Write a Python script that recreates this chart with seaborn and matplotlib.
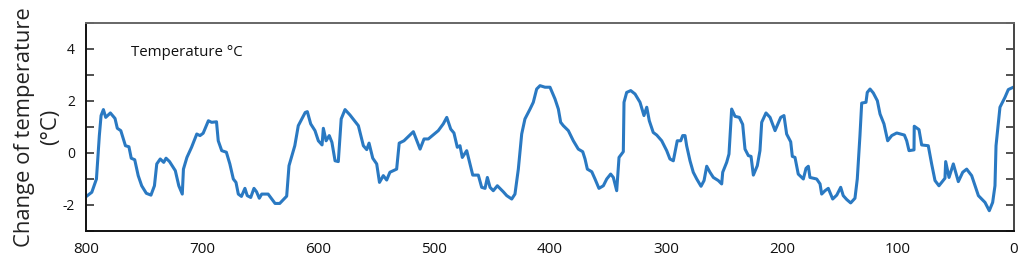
import numpy as np
import pandas as pd
import matplotlib
matplotlib.use("Agg")
import matplotlib.pyplot as plt
import seaborn as sns
from matplotlib.ticker import MultipleLocator

# Age (thousand years before present) and temperature change (°C)
age = [800, 795, 791, 788.5, 787, 785, 783, 779, 775, 773, 770, 766, 763, 761, 758,
       755, 752, 748, 744, 741, 739, 736, 733, 731, 728, 723, 720, 717, 716, 713,
       709, 704.5, 701.7, 699, 694.5, 691.7, 687.5, 686, 683, 679, 676, 673, 670.7,
       668.7, 666, 663, 661, 658, 655.2, 653, 650.6, 648.5, 643, 637, 633, 627, 625,
       620, 617, 611, 609.2, 606.3, 602.6, 599.7, 596.5, 595.4, 593, 590.3, 588,
       585.3, 582.5, 580, 576.7, 572.4, 565.2, 560.9, 558, 556, 552.8, 549.4, 547,
       543.7, 540.8, 538, 532.2, 530, 525.9, 517.8, 512, 508.6, 504.9, 496.3, 492,
       489, 485.6, 482.8, 479.9, 477.6, 475.6, 471.8, 466.6, 461.8, 458.9, 456, 454,
       451.7, 448.9, 445.4, 440.3, 437.3, 433, 430.2, 427.3, 424.4, 421.6, 417.2,
       414.4, 411.5, 408.6, 404.3, 400, 395.7, 392.8, 390.8, 388.5, 384.2, 379.9,
       375.6, 371.8, 369.8, 367.8, 364, 361.2, 357.8, 354, 351.1, 347.7, 345.4, 342.5,
       340.5, 336.8, 336.2, 333.9, 330.4, 326.7, 322.4, 319, 316.6, 314.4, 311, 308,
       303.7, 299.4, 296.6, 293.7, 290.3, 287.3, 285.6, 283.6, 282.2, 279.3, 276.5,
       273.5, 269.8, 267.2, 264.9, 262.1, 259.2, 254.9, 252, 251.1, 247.7, 245.7,
       243.4, 240.5, 236.8, 233.9, 231.9, 229, 226.7, 224.7, 221.3, 219, 217.5,
       213.8, 210.3, 206, 201.1, 198.3, 196, 192.5, 191.1, 188.8, 186, 181.6, 179.3,
       177.3, 175.9, 170.1, 167.2, 165.8, 162.9, 160.1, 156.3, 152.8, 149.4, 147.2,
       144.2, 140.8, 137.1, 135.1, 132.8, 131.3, 127.6, 126.5, 124.1, 121.3, 117.8,
       115.5, 112.1, 108.9, 105.4, 101.1, 94.5, 92.5, 90.5, 86.2, 86, 81.9, 79.6,
       73.9, 71, 68.1, 64.7, 59.5, 58.9, 56, 52.3, 48, 44.2, 40.8, 36.5, 30.7, 25,
       21.3, 18.4, 16.4, 15.5, 12.1, 7.8, 4.9, 0.6]
temp = [-1.68, -1.51, -1.0, 0.67, 1.44, 1.67, 1.37, 1.54, 1.33, 0.95, 0.86, 0.28, 0.24,
        -0.2, -0.26, -0.87, -1.26, -1.55, -1.62, -1.26, -0.42, -0.23, -0.36, -0.2,
        -0.33, -0.68, -1.26, -1.58, -0.62, -0.17, 0.22, 0.73, 0.67, 0.76, 1.24, 1.18,
        1.2, 0.47, 0.09, 0.03, -0.42, -1.0, -1.13, -1.58, -1.67, -1.36, -1.64, -1.71,
        -1.36, -1.49, -1.74, -1.58, -1.58, -1.94, -1.94, -1.66, -0.49, 0.28, 1.05,
        1.56, 1.59, 1.12, 0.86, 0.47, 0.31, 0.95, 0.47, 0.67, 0.41, -0.3, -0.33, 1.31,
        1.67, 1.46, 1.05, 0.28, 0.13, 0.38, -0.2, -0.42, -1.13, -0.87, -1.04, -0.74,
        -0.62, 0.38, 0.47, 0.82, 0.15, 0.54, 0.54, 0.86, 1.12, 1.37, 0.92, 0.77, 0.22,
        0.28, -0.17, 0.09, -0.85, -0.85, -1.32, -1.36, -0.94, -1.32, -1.45, -1.26,
        -1.49, -1.64, -1.77, -1.58, -0.62, 0.73, 1.31, 1.69, 1.95, 2.46, 2.59, 2.53,
        2.53, 2.08, 1.69, 1.18, 1.05, 0.86, 0.47, 0.15, 0.05, -0.23, -0.62, -0.72,
        -1.0, -1.36, -1.26, -1.0, -0.81, -0.94, -1.45, -0.17, 0.05, 1.95, 2.33, 2.4,
        2.27, 1.95, 1.44, 1.76, 1.24, 0.79, 0.69, 0.47, 0.09, -0.23, -0.3, 0.47, 0.47,
        0.67, 0.67, 0.28, -0.3, -0.74, -1.0, -1.28, -1.06, -0.51, -0.74, -0.94, -1.06,
        -1.19, -0.74, -0.36, -0.04, 1.69, 1.41, 1.37, 1.1, 0.15, -0.1, -0.13, -0.85,
        -0.49, 0.09, 1.18, 1.54, 1.37, 0.86, 1.37, 1.44, 0.73, 0.43, -0.13, -0.17,
        -0.81, -1.0, -0.59, -0.51, -0.94, -1.0, -1.19, -1.58, -1.45, -1.36, -1.77,
        -1.62, -1.32, -1.64, -1.79, -1.92, -1.74, -1.0, 0.67, 1.92, 1.95, 2.33, 2.46,
        2.31, 2.01, 1.5, 1.12, 0.47, 0.67, 0.77, 0.69, 0.47, 0.09, 0.12, 1.03, 0.9,
        0.31, 0.28, -0.42, -1.06, -1.26, -0.97, -0.33, -0.94, -0.42, -1.1, -0.74,
        -0.62, -0.87, -1.64, -1.9, -2.22, -1.9, -1.26, 0.28, 1.76, 2.14, 2.44, 2.53]

x_ticks = [800, 700, 600, 500, 400, 300, 200, 100, 0]
y_ticks = [-2, 0, 2, 4]

df = pd.DataFrame({"age": age, "temp": temp})

sns.set_theme(style="white")
plt.rcParams["font.family"] = ["Open Sans", "DejaVu Sans"]

fig = plt.figure(figsize=(10.24, 2.62), dpi=100)
ax = fig.add_axes([86 / 1024, 1 - 231 / 262, (1014 - 86) / 1024, (231 - 23) / 262])

sns.lineplot(data=df, x="age", y="temp", ax=ax, color="#2a79c2", linewidth=2.2,
             sort=False, estimator=None)

ax.set_xlim(800, 0)
ax.set_ylim(-3, 5)
ax.set_xticks(x_ticks)
ax.set_xticklabels([str(t) for t in x_ticks])
ax.set_yticks(y_ticks)
ax.set_yticklabels([str(t) for t in y_ticks])
ax.yaxis.set_minor_locator(MultipleLocator(1))

ax.tick_params(axis="x", which="major", direction="in", length=5, width=1.3,
               color="#222222", labelsize=11, pad=8, labelcolor="#111111")
ax.tick_params(axis="y", which="both", direction="in", length=6, width=1.2,
               color="#333333", labelsize=10, pad=8, labelcolor="#111111",
               right=True, left=True)
ax.tick_params(axis="y", which="minor", labelleft=False)

for side, col, lw in [("left", "#111111", 1.4), ("bottom", "#111111", 1.4),
                      ("top", "#666666", 1.4), ("right", "#444444", 1.4)]:
    ax.spines[side].set_visible(True)
    ax.spines[side].set_color(col)
    ax.spines[side].set_linewidth(lw)

ax.set_xlabel("")
ax.set_ylabel("Change of temperature\n(°C)", fontsize=15.8, color="#222222",
              linespacing=1.3, labelpad=1)
ax.text(0.049, 0.856, "Temperature °C", fontsize=10.8, color="#111111",
        ha="left", va="center", transform=ax.transAxes)

fig.savefig("out.png", dpi=100)
